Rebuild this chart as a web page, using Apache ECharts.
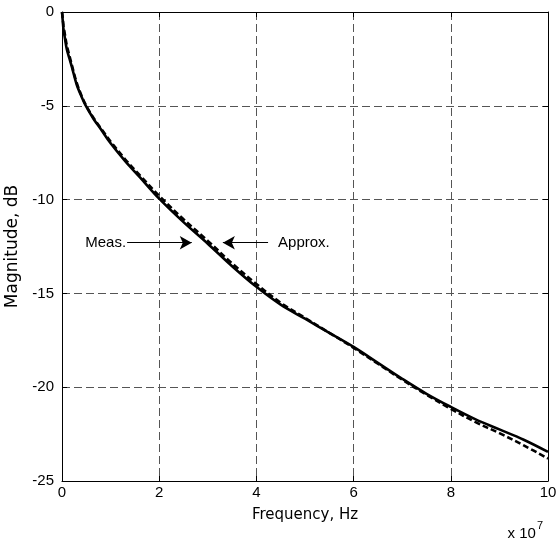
<!DOCTYPE html>
<html>
<head>
<meta charset="utf-8">
<script src="https://cdn.jsdelivr.net/npm/echarts@6/dist/echarts.min.js"></script>
<style>
  html, body { margin: 0; padding: 0; background: #fff; }
  #chart { width: 558px; height: 544px; }
</style>
</head>
<body>
<div id="chart"></div>
<script>
// frequency in units of 1e7 Hz
var freq = [0, 0.01, 0.03, 0.06, 0.1, 0.15, 0.2, 0.3, 0.4, 0.5, 0.65, 0.8, 1.0, 1.3, 1.6, 2.0, 2.5, 3.0, 3.5, 4.0, 4.5, 5.0, 5.5, 6.0, 6.5, 7.0, 7.5, 8.0, 8.5, 9.0, 9.5, 10.0]
var meas = [0, -0.3, -0.9, -1.4, -2.0, -2.45, -2.9, -3.85, -4.5, -5.05, -5.7, -6.25, -7.0, -7.95, -8.8, -9.95, -11.2, -12.35, -13.55, -14.65, -15.6, -16.35, -17.1, -17.85, -18.7, -19.55, -20.35, -21.05, -21.7, -22.25, -22.8, -23.45]
var approx = [0, -0.2, -0.7, -1.2, -1.8, -2.3, -2.8, -3.75, -4.45, -5.0, -5.65, -6.2, -6.9, -7.85, -8.7, -9.8, -11.05, -12.2, -13.4, -14.5, -15.5, -16.3, -17.1, -17.9, -18.75, -19.6, -20.4, -21.15, -21.85, -22.45, -23.1, -23.8]
var xTicks = [0, 2, 4, 6, 8, 10]
var yTicks = [0, -5, -10, -15, -20, -25]

var font = 'Liberation Sans, Arial, sans-serif'
var titleFont = 'DejaVu Sans, sans-serif'

function pairs(ys) {
  return freq.map(function(f, i) { return [f, ys[i]] })
}

var chart = echarts.init(document.getElementById('chart'))

var gridLine = { show: true, lineStyle: { color: '#555', type: [8, 4], width: 1 } }

var axisBase = {
  type: 'value',
  axisLine: { show: true, onZero: false, lineStyle: { color: '#000', width: 1 } },
  axisTick: { show: true, inside: true, length: 5, lineStyle: { color: '#000' } },
  axisLabel: { color: '#000', fontFamily: font, fontSize: 15 }
}

var option = {
  animation: false,
  backgroundColor: '#fff',
  grid: { left: 62, right: 10, top: 12, bottom: 63, containLabel: false, outerBoundsMode: 'none' },
  xAxis: [
    Object.assign({}, axisBase, {
      min: 0, max: 10, interval: 2,
      name: 'Frequency, Hz',
      nameLocation: 'middle',
      nameGap: 27,
      nameTextStyle: { color: '#000', fontFamily: titleFont, fontSize: 15 },
      axisLabel: {
        color: '#000', fontFamily: font, fontSize: 15, margin: 4,
        formatter: function(v) { return xTicks.indexOf(v) >= 0 ? String(v) : '' }
      },
      splitLine: gridLine
    }),
    Object.assign({}, axisBase, {
      position: 'top', min: 0, max: 10, interval: 2,
      axisLabel: { show: false }, splitLine: { show: false }
    })
  ],
  yAxis: [
    Object.assign({}, axisBase, {
      min: -25, max: 0, interval: 5,
      name: 'Magnitude, dB',
      nameLocation: 'middle',
      nameGap: 38,
      nameTextStyle: { color: '#000', fontFamily: titleFont, fontSize: 17 },
      axisLabel: {
        color: '#000', fontFamily: font, fontSize: 15, margin: 8,
        formatter: function(v) { return yTicks.indexOf(v) >= 0 ? String(v) : '' }
      },
      splitLine: gridLine
    }),
    Object.assign({}, axisBase, {
      position: 'right', min: -25, max: 0, interval: 5,
      axisLabel: { show: false }, splitLine: { show: false }
    })
  ],
  graphic: [{
    type: 'text',
    right: 15,
    bottom: 3,
    style: {
      text: '{a|x 10}{b|7}',
      rich: {
        a: { fontFamily: font, fontSize: 15, fill: '#000', verticalAlign: 'bottom' },
        b: { fontFamily: font, fontSize: 11, fill: '#000', padding: [0, 0, 10, 1] }
      }
    }
  }],
  series: [
    {
      name: 'Meas.',
      type: 'line',
      data: pairs(meas),
      smooth: 0.35,
      showSymbol: false,
      lineStyle: { color: '#000', width: 2.6 },
      z: 3,
      markLine: {
        silent: true,
        symbol: ['none', 'arrow'],
        symbolSize: [10, 12],
        lineStyle: { color: '#000', width: 1, type: 'solid' },
        label: {
          show: true, position: 'start', formatter: 'Meas.',
          color: '#000', fontFamily: font, fontSize: 15, distance: 1
        },
        data: [[{ coord: [1.34, -12.3] }, { coord: [2.67, -12.3] }]]
      }
    },
    {
      name: 'Approx.',
      type: 'line',
      data: pairs(approx),
      smooth: 0.35,
      showSymbol: false,
      lineStyle: { color: '#000', width: 2.6, type: [6, 3] },
      z: 4,
      markLine: {
        silent: true,
        symbol: ['none', 'arrow'],
        symbolSize: [10, 12],
        lineStyle: { color: '#000', width: 1, type: 'solid' },
        label: {
          show: true, position: 'start', formatter: 'Approx.',
          color: '#000', fontFamily: font, fontSize: 15, distance: 10
        },
        data: [[{ coord: [4.24, -12.3] }, { coord: [3.31, -12.3] }]]
      }
    }
  ]
}

chart.setOption(option)
</script>
</body>
</html>
